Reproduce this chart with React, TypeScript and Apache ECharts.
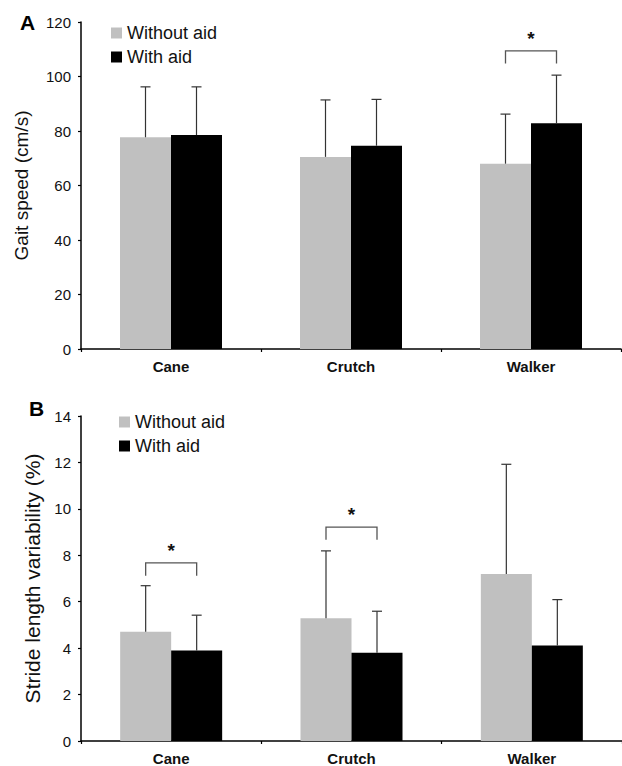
import React, { useEffect, useRef } from "react";
import * as echarts from "echarts";

const categories = ["Cane", "Crutch", "Walker"];
const seriesNames = ["Without aid", "With aid"];

// Panel A: gait speed (cm/s)
const speedWithout = [77.7, 70.5, 68.0];
const speedWithoutSD = [18.5, 20.9, 18.2];
const speedWith = [78.5, 74.6, 82.8];
const speedWithSD = [17.7, 17.0, 17.7];
const speedSig = [[2, 109.4, 104.8]]; // [category, bracket top, leg bottom]

// Panel B: stride length variability (%)
const strideWithout = [4.71, 5.29, 7.19];
const strideWithoutSD = [1.98, 2.9, 4.73];
const strideWith = [3.9, 3.8, 4.11];
const strideWithSD = [1.52, 1.79, 1.98];
const strideSig = [
  [0, 7.67, 7.12],
  [1, 9.21, 8.67],
];

const FONT = "'Liberation Sans', Arial, sans-serif";
const BAR_W = 51;
const GRAY = "#c0c0c0";
const BLACK = "#000000";

function errorSeries(means: number[], sds: number[], axisIdx: number, offset: number) {
  return {
    type: "custom",
    xAxisIndex: axisIdx,
    yAxisIndex: axisIdx,
    z: 5,
    silent: true,
    encode: { x: 0, y: 1 },
    data: means.map((m, i) => [i, m, sds[i]]),
    renderItem: (params: any, api: any) => {
      const cat = api.value(0);
      const mean = api.value(1);
      const sd = api.value(2);
      const base = api.coord([cat, mean]);
      const top = api.coord([cat, mean + sd]);
      const x = base[0] + offset;
      const style = { stroke: "#333", lineWidth: 1.2 };
      return {
        type: "group",
        children: [
          { type: "line", shape: { x1: x, y1: base[1], x2: x, y2: top[1] }, style },
          { type: "line", shape: { x1: x - 5, y1: top[1], x2: x + 5, y2: top[1] }, style },
        ],
      };
    },
  };
}

function sigSeries(sig: number[][], axisIdx: number) {
  return {
    type: "custom",
    xAxisIndex: axisIdx,
    yAxisIndex: axisIdx,
    z: 6,
    silent: true,
    encode: { x: 0, y: 1 },
    data: sig,
    renderItem: (params: any, api: any) => {
      const cat = api.value(0);
      const topP = api.coord([cat, api.value(1)]);
      const legP = api.coord([cat, api.value(2)]);
      const half = BAR_W / 2;
      const x1 = topP[0] - half;
      const x2 = topP[0] + half;
      return {
        type: "group",
        children: [
          {
            type: "polyline",
            shape: {
              points: [
                [x1, legP[1]],
                [x1, topP[1]],
                [x2, topP[1]],
                [x2, legP[1]],
              ],
            },
            style: { stroke: "#555", lineWidth: 1.3, fill: null },
          },
          {
            type: "text",
            x: topP[0],
            y: topP[1] - 3,
            style: {
              text: "*",
              fontFamily: FONT,
              fontWeight: "bold",
              fontSize: 19,
              fill: "#111",
              align: "center",
              verticalAlign: "bottom",
            },
          },
        ],
      };
    },
  };
}

export default function App() {
  const ref = useRef<HTMLDivElement>(null);
  useEffect(() => {
    if (!ref.current) return;
    const chart = echarts.init(ref.current, undefined, { renderer: "svg" });
    const axisLine = { show: true, lineStyle: { color: "#000", width: 1.5 } };
    const axisTick = { show: true, length: 3, lineStyle: { color: "#000", width: 1.2 } };
    const xAxisCommon = {
      type: "category",
      data: categories,
      axisLine,
      axisTick: { ...axisTick, alignWithLabel: false },
      axisLabel: {
        fontFamily: FONT,
        fontWeight: "bold",
        fontSize: 15,
        color: "#111",
        margin: 10,
      },
    };
    const yAxisCommon = {
      type: "value",
      min: 0,
      splitLine: { show: false },
      axisLine,
      axisTick,
      axisLabel: { fontFamily: FONT, fontSize: 15, color: "#111", margin: 10 },
      nameLocation: "middle",
      nameTextStyle: { fontFamily: FONT, color: "#111" },
    };
    const legendCommon = {
      orient: "vertical",
      icon: "rect",
      itemWidth: 11,
      itemHeight: 11,
      itemGap: 4,
      padding: 0,
      selectedMode: false,
      data: seriesNames,
      textStyle: { fontFamily: FONT, fontSize: 18, color: "#111", lineHeight: 20 },
    };
    const option: any = {
      animation: false,
      backgroundColor: "#fff",
      grid: [
        { left: 81, top: 22, width: 540, height: 327 },
        { left: 81, top: 416, width: 546, height: 325 },
      ],
      xAxis: [
        { ...xAxisCommon, gridIndex: 0 },
        { ...xAxisCommon, gridIndex: 1 },
      ],
      yAxis: [
        {
          ...yAxisCommon,
          gridIndex: 0,
          max: 120,
          interval: 20,
          name: "Gait speed (cm/s)",
          nameGap: 50,
          nameTextStyle: { fontFamily: FONT, color: "#111", fontSize: 19 },
        },
        {
          ...yAxisCommon,
          gridIndex: 1,
          max: 14,
          interval: 2,
          name: "Stride length variability (%)",
          nameGap: 38,
          nameTextStyle: { fontFamily: FONT, color: "#111", fontSize: 21 },
        },
      ],
      legend: [
        { ...legendCommon, left: 111, top: 23 },
        { ...legendCommon, left: 119, top: 412 },
      ],
      graphic: [
        {
          type: "text",
          left: 20,
          top: 12,
          style: { text: "A", fontFamily: FONT, fontWeight: "bold", fontSize: 21, fill: "#000" },
        },
        {
          type: "text",
          left: 29,
          top: 398,
          style: { text: "B", fontFamily: FONT, fontWeight: "bold", fontSize: 21, fill: "#000" },
        },
      ],
      series: [
        {
          name: seriesNames[0],
          type: "bar",
          xAxisIndex: 0,
          yAxisIndex: 0,
          data: speedWithout,
          barWidth: BAR_W,
          barGap: "0%",
          itemStyle: { color: GRAY },
        },
        {
          name: seriesNames[1],
          type: "bar",
          xAxisIndex: 0,
          yAxisIndex: 0,
          data: speedWith,
          barWidth: BAR_W,
          barGap: "0%",
          itemStyle: { color: BLACK },
        },
        {
          name: seriesNames[0],
          type: "bar",
          xAxisIndex: 1,
          yAxisIndex: 1,
          data: strideWithout,
          barWidth: BAR_W,
          barGap: "0%",
          itemStyle: { color: GRAY },
        },
        {
          name: seriesNames[1],
          type: "bar",
          xAxisIndex: 1,
          yAxisIndex: 1,
          data: strideWith,
          barWidth: BAR_W,
          barGap: "0%",
          itemStyle: { color: BLACK },
        },
        errorSeries(speedWithout, speedWithoutSD, 0, -BAR_W / 2),
        errorSeries(speedWith, speedWithSD, 0, BAR_W / 2),
        errorSeries(strideWithout, strideWithoutSD, 1, -BAR_W / 2),
        errorSeries(strideWith, strideWithSD, 1, BAR_W / 2),
        sigSeries(speedSig, 0),
        sigSeries(strideSig, 1),
      ],
    };
    chart.setOption(option);
    return () => chart.dispose();
  }, []);
  return (
    <div
      ref={ref}
      style={{ position: "absolute", left: 0, top: 0, width: 622, height: 766, overflow: "hidden" }}
    />
  );
}
